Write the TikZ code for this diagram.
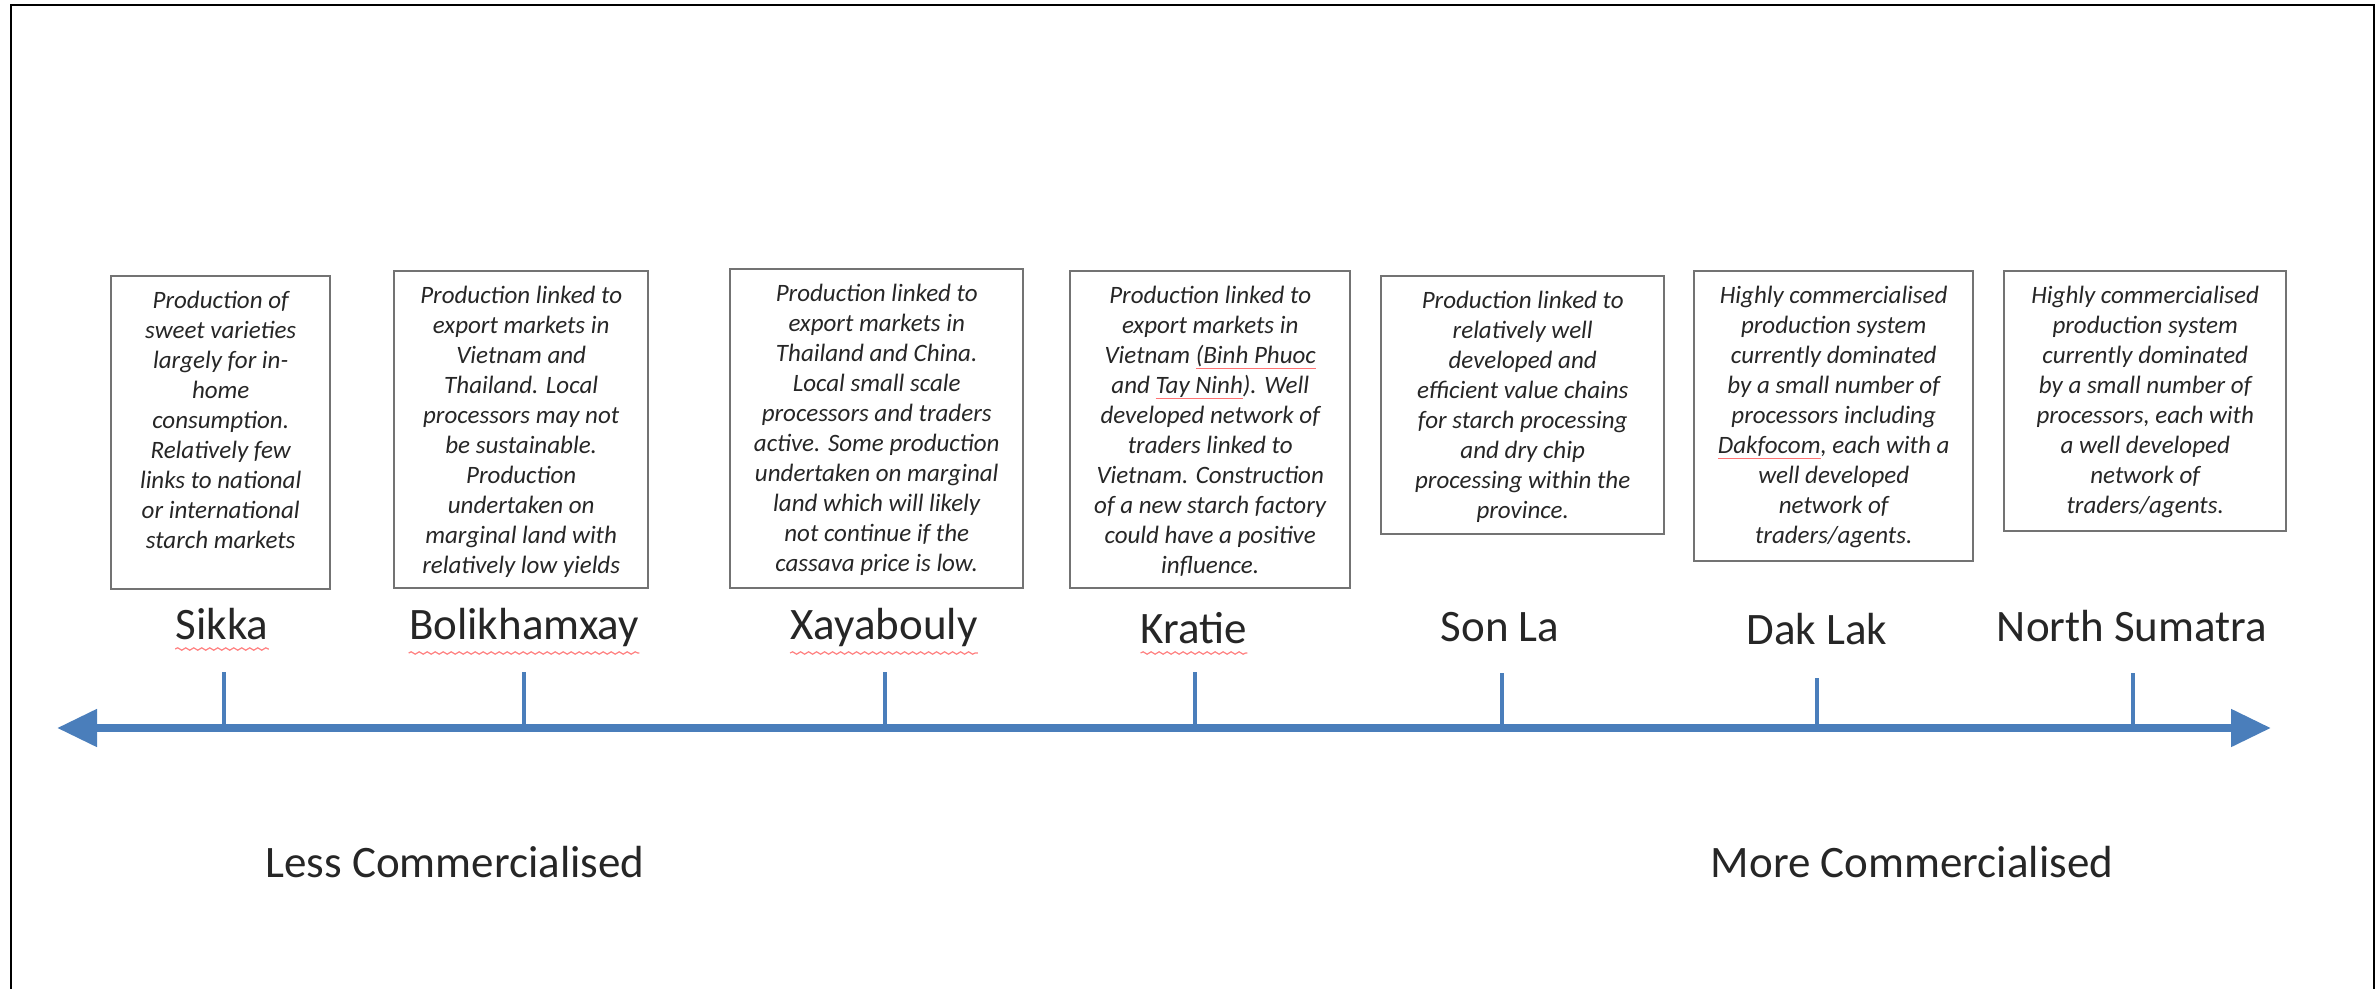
\documentclass[tikz,border=0pt]{standalone}
\usepackage{fontspec}
\setmainfont{Carlito}
\usetikzlibrary{arrows.meta,decorations.pathmorphing}
\definecolor{axisblue}{RGB}{74,126,187}
\newcommand\rul[1]{\setbox0\hbox{#1}\rlap{\color{red!55}\rule[-2.5pt]{\wd0}{0.6pt}}\box0}
\tikzset{
  frame/.style={draw=black!55, line width=1.2pt, inner sep=0, anchor=north west},
  boxtxt/.style={inner sep=0, align=center, anchor=north, text=black!85,
    font=\fontsize{12.5}{15}\selectfont\itshape},
  lbl/.style={font=\fontsize{22.5}{27}\selectfont, anchor=base, inner sep=0, text=black!85},
  tickline/.style={draw=axisblue, line width=1.8pt},
  axisline/.style={draw=axisblue, line width=4pt,
    {Triangle[length=20pt,width=18pt]}-{Triangle[length=20pt,width=18pt]}},
  spell/.style={draw=red!50, line width=0.6pt, decorate,
    decoration={snake, amplitude=0.6pt, segment length=4pt}}
}
\begin{document}
\begin{tikzpicture}[x=0.5pt,y=-0.5pt]
\useasboundingbox (0,0) rectangle (2376,989);
% outer frame
\coordinate (fBL) at (11,989);
\coordinate (fTL) at (11,5);
\coordinate (fTR) at (2374,5);
\coordinate (fBR) at (2374,989);
\draw[line width=1.2pt] (fBL) -- (fTL) -- (fTR) -- (fBR);

% boxes
\node[frame, minimum width=109.5pt, minimum height=156.5pt] (b1) at (110,275) {};
\node[boxtxt] (t1) at ([yshift=-8pt]b1.north) {Production of\\ sweet varieties\\ largely for in-\\ home\\ consumption.\\ Relatively few\\ links to national\\ or international\\ starch markets};

\node[frame, minimum width=127pt, minimum height=158.5pt] (b2) at (393,270) {};
\node[boxtxt] (t2) at ([yshift=-8pt]b2.north) {Production linked to\\ export markets in\\ Vietnam and\\ Thailand. Local\\ processors may not\\ be sustainable.\\ Production\\ undertaken on\\ marginal land with\\ relatively low yields};

\node[frame, minimum width=146.5pt, minimum height=159.5pt] (b3) at (729,268) {};
\node[boxtxt] (t3) at ([yshift=-8pt]b3.north) {Production linked to\\ export markets in\\ Thailand and China.\\ Local small scale\\ processors and traders\\ active. Some production\\ undertaken on marginal\\ land which will likely\\ not continue if the\\ cassava price is low.};

\node[frame, minimum width=140pt, minimum height=158.5pt] (b4) at (1069,270) {};
\node[boxtxt] (t4) at ([yshift=-8pt]b4.north) {Production linked to\\ export markets in\\ Vietnam \rul{(Binh Phuoc}\\ and \rul{Tay Ninh}). Well\\ developed network of\\ traders linked to\\ Vietnam. Construction\\ of a new starch factory\\ could have a positive\\ influence.};

\node[frame, minimum width=141.5pt, minimum height=129pt] (b5) at (1380,275) {};
\node[boxtxt] (t5) at ([yshift=-8pt]b5.north) {Production linked to\\ relatively well\\ developed and\\ efficient value chains\\ for starch processing\\ and dry chip\\ processing within the\\ province.};

\node[frame, minimum width=139.5pt, minimum height=145pt] (b6) at (1693,270) {};
\node[boxtxt] (t6) at ([yshift=-8pt]b6.north) {Highly commercialised\\ production system\\ currently dominated\\ by a small number of\\ processors including\\ \rul{Dakfocom}, each with a\\ well developed\\ network of\\ traders/agents.};

\node[frame, minimum width=141pt, minimum height=130pt] (b7) at (2003,270) {};
\node[boxtxt] (t7) at ([yshift=-8pt]b7.north) {Highly commercialised\\ production system\\ currently dominated\\ by a small number of\\ processors, each with\\ a well developed\\ network of\\ traders/agents.};

% labels
\node[lbl] (l1) at (222,639) {Sikka};
\node[lbl] (l2) at (524,639) {Bolikhamxay};
\node[lbl] (l3) at (884,639) {Xayabouly};
\node[lbl] (l4) at (1194,643) {Kratie};
\node[lbl] (l5) at (1500,641) {Son La};
\node[lbl] (l6) at (1817,644) {Dak Lak};
\node[lbl] (l7) at (2132,641) {North Sumatra};

% spell-check underlines
\draw[spell] ([yshift=-5pt]l1.base west) -- ([yshift=-5pt]l1.base east);
\draw[spell] ([yshift=-7pt]l2.base west) -- ([yshift=-7pt]l2.base east);
\draw[spell] ([yshift=-7pt]l3.base west) -- ([yshift=-7pt]l3.base east);
\draw[spell] ([yshift=-5pt]l4.base west) -- ([yshift=-5pt]l4.base east);

% axis
\coordinate (aL) at (57,728);
\coordinate (aR) at (2271,728);
\draw[axisline] (aL) -- (aR);

% ticks
\foreach \i/\x/\t in {1/224/672, 2/524/672, 3/885/672, 4/1195/672, 5/1502/673, 6/1817/678, 7/2133/673}{
  \coordinate (k\i top) at (\x,\t);
  \coordinate (k\i bot) at (\x,728);
  \draw[tickline] (k\i top) -- (k\i bot);
}

% ends
\node[lbl] (less) at (455,877) {Less Commercialised};
\node[lbl] (more) at (1912,877) {More Commercialised};
\end{tikzpicture}
\end{document}
